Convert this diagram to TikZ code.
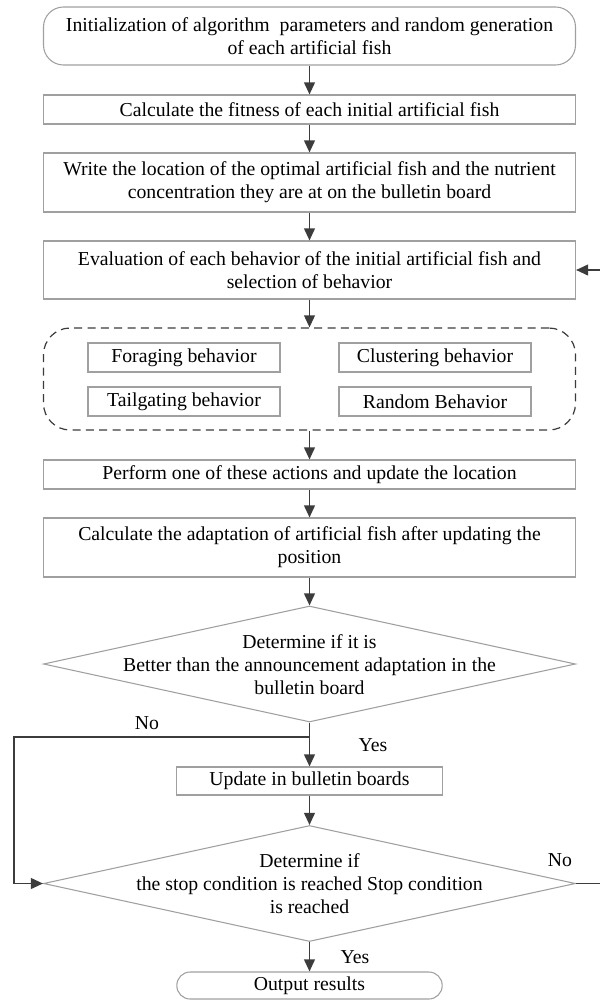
\documentclass[tikz,border=0pt]{standalone}
\usepackage{fontspec}
\setmainfont{Liberation Serif}
\usetikzlibrary{arrows.meta,shapes.geometric}
\definecolor{boxgray}{HTML}{A0A0A0}
\definecolor{arrgray}{HTML}{3C3C3C}
\begin{document}
\begin{tikzpicture}[x=0.75pt,y=-0.75pt,
  font=\fontsize{14.8pt}{17.3pt}\selectfont,
  box/.style={draw=boxgray,line width=0.8pt,rectangle,inner sep=0pt,align=center,minimum width=399pt},
  term/.style={box,rounded corners=15pt},
  subbox/.style={draw=boxgray,line width=0.8pt,rectangle,inner sep=0pt,minimum width=144pt,minimum height=21.75pt},
  dec/.style={draw=boxgray,line width=0.8pt,diamond,inner sep=0pt,minimum width=399pt,minimum height=87pt},
  arr/.style={draw=arrgray,line width=1.35pt,-{Triangle[length=9pt,width=8pt]}},
  ln/.style={draw=arrgray,line width=1.35pt},
  lab/.style={inner sep=0pt}
]
\useasboundingbox (0,0) rectangle (600,1000);
\clip (0,0) rectangle (600,1000);
\fill[white] (0,0) rectangle (600,1000);

\node[term,minimum height=43.5pt] (start) at (309.5,36) {Initialization of algorithm\ \ parameters and random generation\\of each artificial fish};
\node[box,minimum height=21.75pt] (calc) at (309.5,109.5) {Calculate the fitness of each initial artificial fish};
\node[box,minimum height=44.25pt] (write) at (309.5,182.5) {Write the location of the optimal artificial fish and the nutrient\\concentration they are at on the bulletin board};
\node[box,minimum height=43.5pt] (eval) at (309.5,270) {Evaluation of each behavior of the initial artificial fish and\\selection of behavior};

\node[draw=arrgray,line width=0.9pt,dash pattern=on 6pt off 4pt,rounded corners=20pt,rectangle,minimum width=399pt,minimum height=76.5pt,inner sep=0pt] (group) at (309.5,379) {};
\node[subbox] (forage) at (184,357.5) {Foraging behavior};
\node[subbox] (cluster) at (435,357.5) {Clustering behavior};
\node[subbox] (tail) at (184,401.5) {Tailgating behavior};
\node[subbox] (random) at (435,401.5) {Random Behavior};

\node[box,minimum height=21.75pt] (perform) at (309.5,474.5) {Perform one of these actions and update the location};
\node[box,minimum height=44.25pt] (adapt) at (309.5,547.5) {Calculate the adaptation of artificial fish after updating the\\position};

\node[dec] (d1) at (309.5,664) {};
\node[lab,align=center] (d1t) at (309.5,665) {Determine if it is\\Better than the announcement adaptation in the\\bulletin board};

\node[box,minimum width=199pt,minimum height=21pt] (update) at (309.5,781) {Update in bulletin boards};

\node[dec] (d2) at (309.5,883.5) {};
\node[lab,align=center] (d2t) at (309.5,884) {Determine if\\the stop condition is reached Stop condition\\is reached};

\node[term,minimum width=199pt,minimum height=20.25pt,rounded corners=10pt] (out) at (309.5,985.5) {Output results};

\coordinate (j1) at (309.5,737);
\coordinate (lft) at (14,737);
\coordinate (lfb) at (14,883.5);
\coordinate (rtb) at (606,883.5);
\coordinate (rtt) at (606,270);

\draw[arr] (start) -- (calc);
\draw[arr] (calc) -- (write);
\draw[arr] (write) -- (eval);
\draw[arr] (eval) -- (group);
\draw[arr] (group) -- (perform);
\draw[arr] (perform) -- (adapt);
\draw[arr] (adapt) -- (d1.north);
\draw[ln] (d1.south) -- (j1);
\draw[arr] (j1) -- (update);
\draw[arr] (update) -- (d2.north);
\draw[ln] (j1) -- (lft) -- (lfb);
\draw[arr] (lfb) -- (d2.west);
\draw[ln] (d2.east) -- (rtb) -- (rtt);
\draw[arr] (rtt) -- (eval.east);
\draw[arr] (d2.south) -- (out);

\node[lab] (no1) at (147,723) {No};
\node[lab] (yes1) at (373,745) {Yes};
\node[lab] (no2) at (560,860) {No};
\node[lab] (yes2) at (355,957) {Yes};
\end{tikzpicture}
\end{document}
